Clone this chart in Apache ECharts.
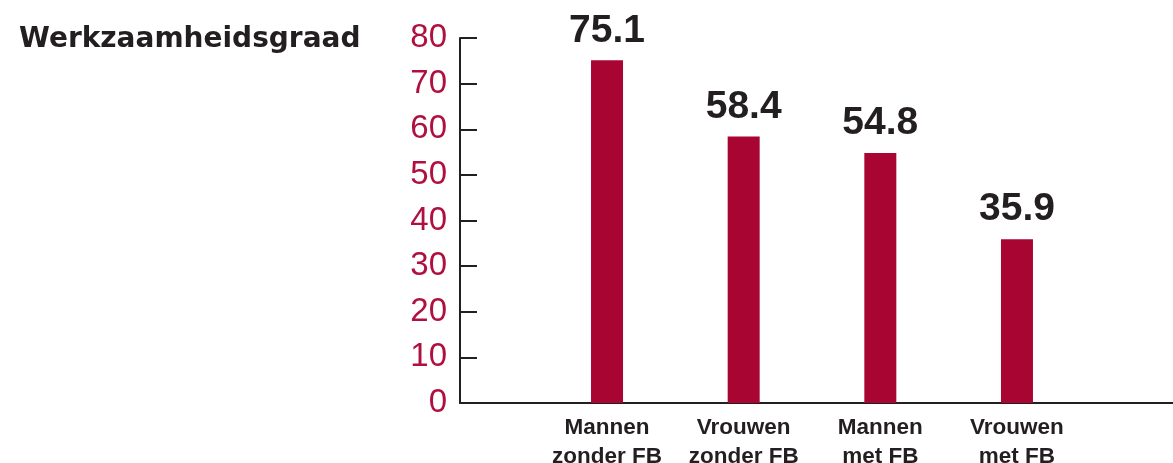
<!DOCTYPE html>
<html>
<head>
<meta charset="utf-8">
<style>
  html, body { margin: 0; padding: 0; background: #ffffff; }
  #chart { width: 1173px; height: 463px; }
</style>
<script src="https://cdn.jsdelivr.net/npm/echarts@6/dist/echarts.min.js"></script>
</head>
<body>
<div id="chart"></div>
<script>
const titleText = 'Werkzaamheidsgraad';
const categories = ['Mannen\nzonder FB', 'Vrouwen\nzonder FB', 'Mannen\nmet FB', 'Vrouwen\nmet FB'];
const values = [75.1, 58.4, 54.8, 35.9];
const yMin = 0, yMax = 80, yStep = 10;

const dark = '#231f20';
const red = '#a90533';

const chart = echarts.init(document.getElementById('chart'), null, { renderer: 'canvas' });
chart.setOption({
  animation: false,
  backgroundColor: '#ffffff',
  title: {
    text: titleText,
    left: 14, top: 21,
    textStyle: { fontFamily: 'DejaVu Sans', fontWeight: 'bold', fontSize: 28, color: dark }
  },
  grid: [
    { left: 460, right: 0, top: 38, bottom: 60, containLabel: false, outerBoundsMode: 'none' },
    { left: 538.7, right: 87.7, top: 38, bottom: 60, containLabel: false, outerBoundsMode: 'none' }
  ],
  xAxis: [
    {
      gridIndex: 0, type: 'value', min: 0, max: 1,
      axisLine: { show: true, lineStyle: { color: dark, width: 2 } },
      axisTick: { show: false }, axisLabel: { show: false }, splitLine: { show: false }
    },
    {
      gridIndex: 1, type: 'category', data: categories,
      axisLine: { show: false }, axisTick: { show: false }, splitLine: { show: false },
      axisLabel: {
        margin: 10, interval: 0,
        fontFamily: 'Liberation Sans', fontWeight: 'bold', fontSize: 22.5, lineHeight: 29, color: dark
      }
    }
  ],
  yAxis: [
    {
      gridIndex: 0, type: 'value', min: yMin, max: yMax, interval: yStep,
      axisLine: { show: true, lineStyle: { color: dark, width: 2 } },
      axisTick: { show: true, inside: true, length: 17, lineStyle: { color: dark, width: 2 } },
      splitLine: { show: false },
      axisLabel: {
        margin: 13, padding: [4, 0, 0, 0],
        fontFamily: 'Liberation Sans', fontSize: 33, color: '#b0103f'
      }
    },
    {
      gridIndex: 1, type: 'value', min: yMin, max: yMax, interval: yStep, show: false
    }
  ],
  series: [{
    type: 'bar',
    xAxisIndex: 1, yAxisIndex: 1,
    data: values,
    barWidth: 32,
    itemStyle: { color: red },
    label: {
      show: true, position: 'top', distance: 10,
      formatter: p => p.value.toFixed(1),
      fontFamily: 'Liberation Sans', fontWeight: 'bold', fontSize: 39, color: dark
    }
  }]
});
</script>
</body>
</html>
